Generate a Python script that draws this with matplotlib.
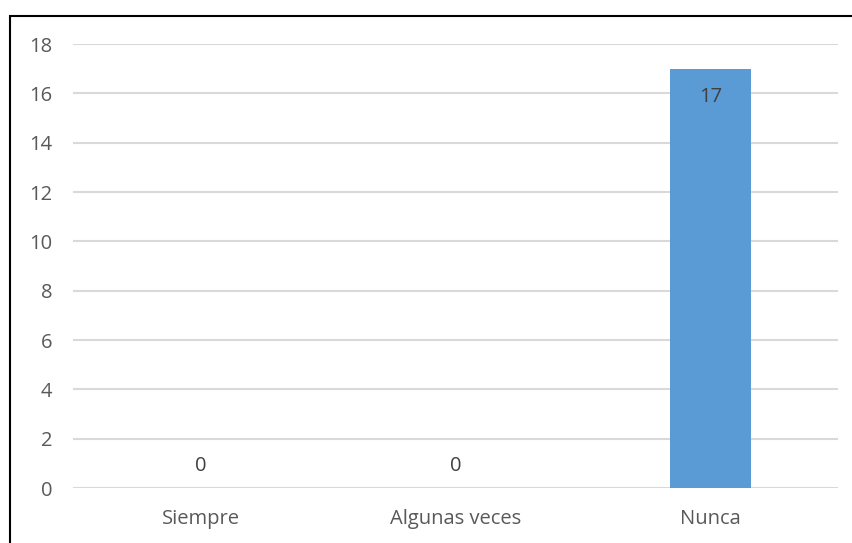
import matplotlib.pyplot as plt
from matplotlib.patches import Rectangle

categories = ["Siempre", "Algunas veces", "Nunca"]
counts = [0, 0, 17]
y_ticks = [0, 2, 4, 6, 8, 10, 12, 14, 16, 18]

plt.rcParams['font.family'] = ['Open Sans', 'DejaVu Sans']

W, H = 853, 543
fig = plt.figure(figsize=(W / 100, H / 100), dpi=100)
ax = fig.add_axes([73 / W, 1 - 488 / H, (838 - 73) / W, (488 - 44) / H])

x = range(len(categories))
bars = ax.bar(x, counts, width=0.314, color='#5b9bd5', zorder=3)

ax.set_xlim(-0.5, len(categories) - 0.5)
ax.set_ylim(0, 18)
ax.set_yticks(y_ticks)
ax.set_xticks(list(x))
ax.set_xticklabels(categories)
ax.tick_params(axis='both', length=0, labelsize=14.5, labelcolor='#595959')
ax.tick_params(axis='x', pad=15)
ax.tick_params(axis='y', pad=15)
ax.grid(axis='y', color='#d9d9d9', linewidth=1.5, zorder=0)
for s in ax.spines.values():
    s.set_visible(False)

# value labels: inside the top of tall bars, just above the baseline for zeros
for xi, v in zip(x, counts):
    if v > 0:
        ax.text(xi, v - 0.75, str(v), ha='center', va='top', fontsize=14.5, color='#404040')
    else:
        ax.text(xi, v + 0.5, str(v), ha='center', va='bottom', fontsize=14.5, color='#404040')

# outer frame, partly cut off at the right and bottom
fig.patches.append(Rectangle((9.5 / W, -0.1), 1.2, 1 - 15.5 / H + 0.1,
                             transform=fig.transFigure, fill=False,
                             edgecolor='black', linewidth=1.5))

fig.savefig('out.png', dpi=100)
